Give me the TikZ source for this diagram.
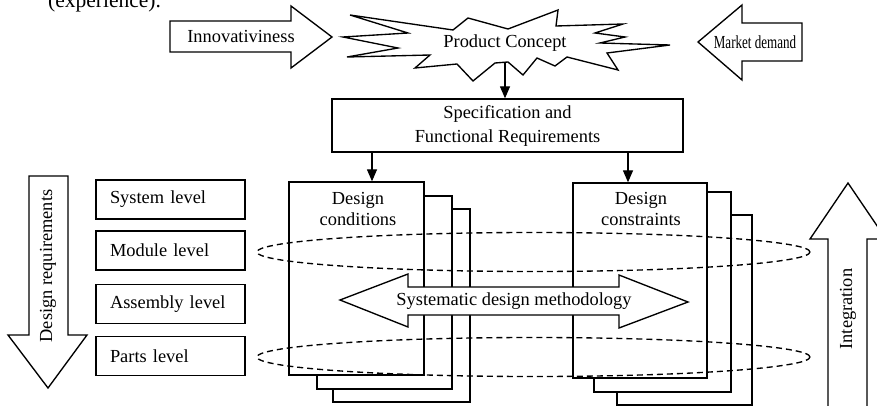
\documentclass[tikz,border=0pt]{standalone}
\usepackage{fontspec}
\setmainfont{Liberation Serif}
\usetikzlibrary{arrows.meta}
\begin{document}
\begin{tikzpicture}[x=1pt,y=-1pt,
  ln/.style={line width=1.35pt, line join=miter},
  shp/.style={ln, draw=black, fill=white},
  txt/.style={font=\fontsize{18.4}{24}\selectfont, inner sep=0pt},
  conn/.style={line width=1.35pt, -{Triangle[length=12pt,width=10pt]}},
  lvl/.style={shp, txt, minimum width=149pt, minimum height=39pt, text width=121pt, align=left, inner xsep=14pt},
  dbox/.style={shp, minimum width=135pt, minimum height=193pt},
  ring/.style={ln, dash pattern=on 6pt off 4pt}]
\useasboundingbox (0,0) rectangle (877,406);

% caption fragment
\node[anchor=base west, font=\fontsize{21.5}{24}\selectfont, inner sep=0pt] (exp) at (48,8) {(experience).};

% input arrows
\draw[shp] (170,21)--(291,21)--(291,6)--(332,37)--(291,68)--(291,52)--(170,52)--cycle;
\node[txt] (inn) at (241,37) {Innovativiness};
\draw[shp] (802,23)--(742,23)--(742,5)--(698,42)--(742,80)--(742,61)--(802,61)--cycle;
\node[txt, xscale=0.71] (mkt) at (755,42) {Market demand};

% star
\draw[shp] (350,15)--(453,30)--(468,18)--(508,29)--(558,10)--(556,26)--(623,24)--(595,33)--(625,37)--(600,43)--(670,45)--(607,53)--(618,70)--(567,57)--(555,66)--(537,58)--(523,75)--(508,62)--(495,63)--(473,81)--(457,64)--(415,68)--(430,55)--(347,57)--(398,48)--(343,37)--(408,33)--cycle;
\node[txt] (pc) at (505,43) {Product Concept};
\coordinate (pcout) at (505,62);

% specification
\node[shp, txt, minimum width=351pt, minimum height=53pt, align=center] (spec) at (507.5,125.5) {Specification and\\Functional Requirements};
\draw[conn] (pcout) -- (pcout |- spec.north);

% design conditions stack
\node[dbox, minimum width=137pt] (dc3) at (401.5,305.5) {};
\node[dbox] (dc2) at (384.5,292.5) {};
\node[dbox] (dc) at (356.5,278.5) {};
\node[txt, align=center, font=\fontsize{18.4}{21}\selectfont, anchor=north] (dct) at (358,192) {Design\\conditions};

% design constraints stack
\node[dbox, minimum width=135pt, minimum height=190pt] (cs3) at (684.5,310) {};
\node[dbox, minimum width=137pt, minimum height=200pt] (cs2) at (662.5,292) {};
\node[dbox, minimum width=134pt, minimum height=195pt] (cs) at (640,280.5) {};
\node[txt, align=center, font=\fontsize{18.4}{21}\selectfont, anchor=north] (cst) at (641,192) {Design\\constraints};

\draw[conn] (372,0 |- spec.south) -- (372,0 |- dc.north);
\draw[conn] (628,0 |- spec.south) -- (628,0 |- cs.north);

% level boxes
\node[lvl] (sys) at (170.5,199.5) {System level};
\node[lvl] (mod) at (170.5,250.5) {Module level};
\node[lvl] (asm) at (170.5,304) {Assembly level};
\node[lvl] (prt) at (170.5,356) {Parts level};

% design requirements arrow
\draw[shp] (29,176)--(68,176)--(68,335)--(87,335)--(48,388)--(8,335)--(29,335)--cycle;
\node[txt, rotate=90] (dreq) at (48,266) {Design requirements};

% integration arrow
\draw[shp] (828,412)--(828,239)--(810,239)--(848,183)--(886,239)--(867,239)--(867,412);
\node[txt, rotate=90] (integ) at (848,309) {Integration};

% systematic design methodology double arrow
\draw[shp] (340,300)--(408,274)--(408,287)--(619,287)--(619,275)--(688,302)--(619,328)--(619,315)--(408,315)--(408,327)--cycle;
\node[txt] (sdm) at (514,301) {Systematic design methodology};

% dashed rings
\draw[ring] (533.5,252) ellipse [x radius=276.5pt, y radius=19.5pt];
\draw[ring] (533.5,357) ellipse [x radius=276.5pt, y radius=19.5pt];
\end{tikzpicture}
\end{document}
